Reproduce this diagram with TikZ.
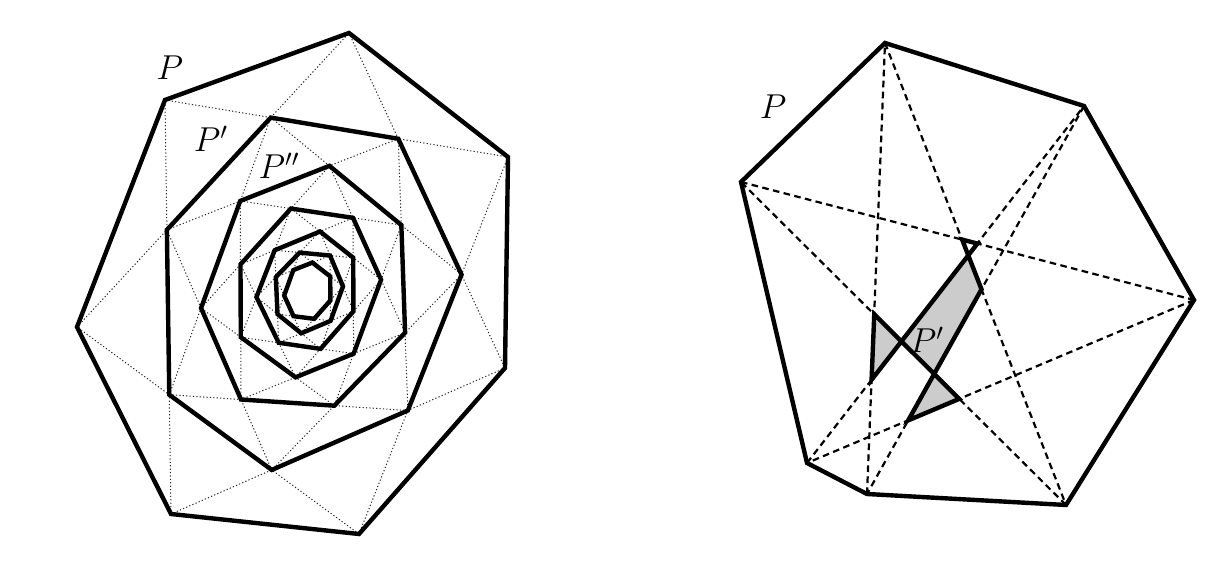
\documentclass[tikz,border=0pt]{standalone}
\tikzset{
  polyline/.style={line width=2.2pt, line join=miter},
  dotline/.style={line width=0.5pt, dash pattern=on 0.6pt off 1.1pt, black!85},
  dashline/.style={line width=1.1pt, dash pattern=on 3.3pt off 2.2pt},
  lbl/.style={font=\LARGE, inner sep=0pt},
}
\begin{document}
\begin{tikzpicture}[x=0.5pt,y=-0.5pt]
\useasboundingbox (0,0) rectangle (1215,581);
% ---------------- left: iterated pentagram map ----------------
\coordinate (L0v1) at (349,33);
\coordinate (L0v2) at (508,157);
\coordinate (L0v3) at (505,368);
\coordinate (L0v4) at (359,534);
\coordinate (L0v5) at (171,514);
\coordinate (L0v6) at (77,327);
\coordinate (L0v7) at (165,100);
\foreach \lev in {0,...,5}{
  \pgfmathtruncatemacro\nlev{\lev+1}
  \foreach \vi in {1,...,7}{
    \pgfmathtruncatemacro\vm{mod(\vi+5,7)+1}
    \pgfmathtruncatemacro\vp{mod(\vi,7)+1}
    \pgfmathtruncatemacro\vpp{mod(\vi+1,7)+1}
    \coordinate (L\nlev v\vi) at (intersection cs: first line={(L\lev v\vm)--(L\lev v\vp)}, second line={(L\lev v\vi)--(L\lev v\vpp)});
    \draw[dotline] (L\lev v\vi) -- (L\lev v\vpp);
  }
}
\foreach \lev in {0,...,6}{
  \draw[polyline] (L\lev v1) -- (L\lev v2) -- (L\lev v3) -- (L\lev v4) -- (L\lev v5) -- (L\lev v6) -- (L\lev v7) -- cycle;
}
\node[lbl] (lP) at (170,68) {$P$};
\node[lbl] (lP1) at (211,139) {$P'$};
\node[lbl] (lP2) at (279,166) {$P''$};
% ---------------- right: deep diagonals ----------------
\coordinate (R1) at (885,43);
\coordinate (R2) at (1084,106);
\coordinate (R3) at (1194,300);
\coordinate (R4) at (1066,505);
\coordinate (R5) at (867,494);
\coordinate (R6) at (807,463);
\coordinate (R7) at (741,182);
\foreach \vi in {1,...,7}{
  \pgfmathtruncatemacro\va{mod(\vi,7)+1}
  \pgfmathtruncatemacro\vc{mod(\vi+2,7)+1}
  \pgfmathtruncatemacro\vd{mod(\vi+3,7)+1}
  \draw[dashline] (R\vi) -- (R\vc);
  \coordinate (Q\vi) at (intersection cs: first line={(R\vi)--(R\vc)}, second line={(R\va)--(R\vd)});
}
\coordinate (QX) at (intersection cs: first line={(Q5)--(Q6)}, second line={(Q7)--(Q1)});
\fill[black!20] (Q1) -- (Q2) -- (Q3) -- (Q4) -- (Q5) -- (QX) -- cycle;
\draw[polyline] (Q1) -- (Q2) -- (Q3) -- (Q4) -- (Q5) -- (Q6) -- (Q7) -- cycle;
\draw[polyline] (R1) -- (R2) -- (R3) -- (R4) -- (R5) -- (R6) -- (R7) -- cycle;
\node[lbl] (rP) at (773,107) {$P$};
\node[lbl] (rP1) at (927,340) {$P'$};
\end{tikzpicture}
\end{document}
